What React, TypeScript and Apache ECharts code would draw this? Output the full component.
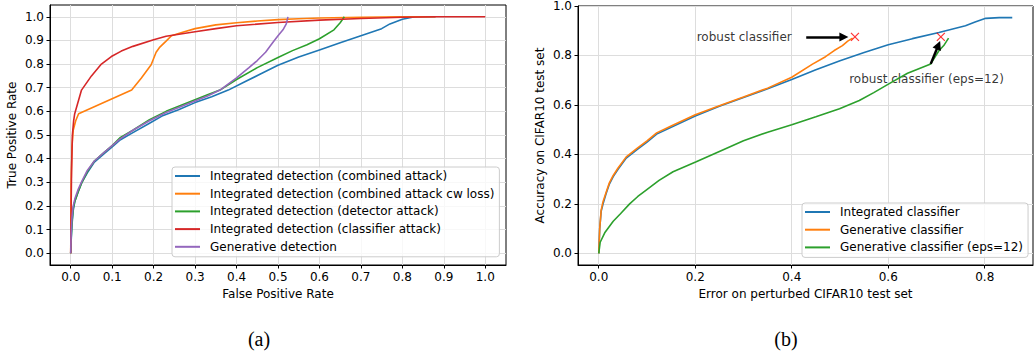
import React, { useEffect, useRef } from 'react';
import * as echarts from 'echarts';

// ---------- (a) ROC curves ----------
const rocTicks = [0, 0.1, 0.2, 0.3, 0.4, 0.5, 0.6, 0.7, 0.8, 0.9, 1.0];

const rocCombined: number[][] = [
  [0, 0], [0.001, 0.05], [0.003, 0.12], [0.006, 0.18], [0.01, 0.22], [0.018, 0.26], [0.027, 0.3],
  [0.04, 0.34], [0.057, 0.385], [0.08, 0.42], [0.1, 0.45], [0.12, 0.48], [0.15, 0.51], [0.19, 0.55],
  [0.22, 0.58], [0.26, 0.607], [0.3, 0.637], [0.34, 0.662], [0.38, 0.69], [0.42, 0.725], [0.46, 0.76],
  [0.5, 0.795], [0.55, 0.83], [0.6, 0.86], [0.65, 0.89], [0.7, 0.92], [0.75, 0.95], [0.77, 0.97],
  [0.8, 0.99], [0.83, 1.0], [0.88, 1.0],
];
const rocCombinedCw: number[][] = [
  [0, 0], [0.001, 0.3], [0.003, 0.45], [0.006, 0.52], [0.012, 0.56], [0.019, 0.59], [0.147, 0.69],
  [0.17, 0.74], [0.194, 0.797], [0.206, 0.85], [0.215, 0.872], [0.23, 0.897], [0.243, 0.92],
  [0.27, 0.935], [0.3, 0.95], [0.35, 0.966], [0.4, 0.975], [0.45, 0.982], [0.5, 0.988],
  [0.55, 0.992], [0.6, 0.995], [0.7, 0.998], [0.8, 1.0], [0.88, 1.0],
];
const rocDetector: number[][] = [
  [0, 0], [0.001, 0.06], [0.003, 0.13], [0.006, 0.19], [0.01, 0.22], [0.018, 0.26], [0.027, 0.3],
  [0.04, 0.345], [0.057, 0.39], [0.08, 0.425], [0.1, 0.455], [0.12, 0.49], [0.15, 0.52],
  [0.19, 0.565], [0.23, 0.6], [0.28, 0.635], [0.33, 0.67], [0.36, 0.69], [0.4, 0.735],
  [0.45, 0.785], [0.5, 0.828], [0.535, 0.857], [0.57, 0.882], [0.6, 0.907], [0.635, 0.945],
  [0.65, 0.975], [0.66, 1.0],
];
const rocClassifier: number[][] = [
  [0, 0], [0.001, 0.2], [0.002, 0.35], [0.004, 0.5], [0.007, 0.56], [0.0096, 0.59], [0.026, 0.69],
  [0.05, 0.75], [0.074, 0.8], [0.098, 0.832], [0.122, 0.855], [0.15, 0.875], [0.2, 0.903],
  [0.23, 0.918], [0.3, 0.937], [0.35, 0.95], [0.4, 0.962], [0.5, 0.976], [0.6, 0.986],
  [0.7, 0.993], [0.8, 0.998], [0.88, 1.0], [1.0, 1.0],
];
const rocGenerative: number[][] = [
  [0, 0], [0.001, 0.08], [0.003, 0.15], [0.006, 0.2], [0.01, 0.23], [0.018, 0.27], [0.027, 0.305],
  [0.04, 0.35], [0.057, 0.39], [0.08, 0.425], [0.1, 0.455], [0.12, 0.485], [0.15, 0.52],
  [0.19, 0.56], [0.23, 0.595], [0.28, 0.63], [0.33, 0.665], [0.36, 0.69], [0.4, 0.742],
  [0.43, 0.785], [0.45, 0.815], [0.47, 0.85], [0.487, 0.89], [0.5, 0.92], [0.512, 0.945],
  [0.52, 0.97], [0.524, 1.0],
];

// ---------- (b) accuracy vs error ----------
const accXTicks = [0, 0.2, 0.4, 0.6, 0.8];
const accYTicks = [0, 0.2, 0.4, 0.6, 0.8, 1.0];

const accIntegrated: number[][] = [
  [0, 0], [0.002, 0.1], [0.005, 0.17], [0.009, 0.2], [0.015, 0.24], [0.022, 0.28], [0.03, 0.31],
  [0.04, 0.34], [0.057, 0.385], [0.08, 0.42], [0.1, 0.45], [0.12, 0.482], [0.15, 0.51],
  [0.2, 0.555], [0.25, 0.595], [0.3, 0.63], [0.35, 0.665], [0.4, 0.703], [0.45, 0.742],
  [0.5, 0.779], [0.55, 0.812], [0.6, 0.843], [0.65, 0.868], [0.705, 0.893], [0.76, 0.92],
  [0.78, 0.935], [0.802, 0.95], [0.83, 0.953], [0.857, 0.953],
];
const accGenerative: number[][] = [
  [0, 0], [0.002, 0.1], [0.005, 0.175], [0.009, 0.21], [0.015, 0.245], [0.022, 0.285],
  [0.03, 0.315], [0.04, 0.345], [0.057, 0.39], [0.08, 0.425], [0.1, 0.455], [0.12, 0.487],
  [0.15, 0.515], [0.2, 0.56], [0.25, 0.597], [0.3, 0.632], [0.35, 0.668], [0.4, 0.712],
  [0.443, 0.765], [0.47, 0.795], [0.488, 0.82], [0.505, 0.84], [0.516, 0.858], [0.526, 0.87],
];
const accGenerativeEps: number[][] = [
  [0, 0], [0.003, 0.045], [0.0124, 0.083], [0.03, 0.13], [0.045, 0.16], [0.064, 0.2],
  [0.081, 0.23], [0.099, 0.257], [0.125, 0.295], [0.154, 0.33], [0.202, 0.37], [0.257, 0.418],
  [0.3, 0.455], [0.35, 0.49], [0.4, 0.52], [0.45, 0.552], [0.499, 0.585], [0.54, 0.618],
  [0.57, 0.65], [0.602, 0.686], [0.64, 0.728], [0.688, 0.766], [0.705, 0.819], [0.715, 0.84],
  [0.725, 0.87],
];

const robustMarkers: number[][] = [[0.531, 0.875], [0.709, 0.875]];
const annotationTexts = ['robust classifier', 'robust classifier (eps=12)'];
const annotationAnchors: number[][] = [[0.203, 0.875], [0.519, 0.705]];
const arrowTails: number[][] = [[0.43, 0.875], [0.688, 0.766]];
const arrowHeads: number[][] = [[0.508, 0.875], [0.704, 0.842]];

const rocNames = [
  'Integrated detection (combined attack)',
  'Integrated detection (combined attack cw loss)',
  'Integrated detection (detector attack)',
  'Integrated detection (classifier attack)',
  'Generative detection',
];
const accNames = ['Integrated classifier', 'Generative classifier', 'Generative classifier (eps=12)'];

const colors = ['#1f77b4', '#ff7f0e', '#2ca02c', '#d62728', '#9467bd'];
const FONT = 'DejaVu Sans';
const FS = 12;

function axisCommon(ticks: number[]) {
  return {
    type: 'value' as const,
    axisLine: { show: true, onZero: false, lineStyle: { color: '#000', width: 1 } },
    axisTick: { show: true, inside: false, length: 3.5, customValues: ticks, lineStyle: { color: '#000', width: 1 } },
    axisLabel: {
      customValues: ticks,
      formatter: (v: number) => v.toFixed(1),
      color: '#000',
      fontSize: FS,
      fontFamily: FONT,
      lineHeight: 12,
      margin: 6,
    },
    splitLine: { show: true, lineStyle: { color: '#dddddd', width: 1 } },
    nameLocation: 'middle' as const,
    nameTextStyle: { color: '#000', fontSize: FS, fontFamily: FONT },
  };
}

function legendCommon(names: string[], left: number, top: number) {
  return {
    orient: 'vertical' as const,
    left,
    top,
    data: names,
    icon: 'rect',
    itemWidth: 25,
    itemHeight: 2,
    itemGap: 3.7,
    selectedMode: false,
    padding: [2, 5, 3, 3],
    backgroundColor: 'rgba(255,255,255,0.8)',
    borderColor: '#cccccc',
    borderWidth: 1,
    borderRadius: 3,
    textStyle: { color: '#000', fontSize: FS, fontFamily: FONT, lineHeight: 14, padding: [0, 0, 0, 5] },
  };
}

function lineSeries(name: string, data: number[][], color: string, idx: number) {
  return {
    type: 'line' as const,
    name,
    data,
    xAxisIndex: idx,
    yAxisIndex: idx,
    symbol: 'none',
    showSymbol: false,
    lineStyle: { color, width: 1.6 },
    itemStyle: { color },
    emphasis: { disabled: true },
    silent: true,
  };
}

export default function App() {
  const ref = useRef<HTMLDivElement>(null);

  useEffect(() => {
    if (!ref.current) return;
    const chart = echarts.init(ref.current, undefined, { renderer: 'svg' });
    const rocSeriesData = [rocCombined, rocCombinedCw, rocDetector, rocClassifier, rocGenerative];
    const accSeriesData = [accIntegrated, accGenerative, accGenerativeEps];

    const option: any = {
      animation: false,
      textStyle: { fontFamily: FONT },
      grid: [
        { left: 50, top: 5, width: 456, height: 260, show: true, borderColor: '#000', borderWidth: 1, containLabel: false, outerBoundsMode: 'none' },
        { left: 578, top: 6, width: 455, height: 259, show: true, borderColor: '#000', borderWidth: 1, containLabel: false, outerBoundsMode: 'none' },
      ],
      xAxis: [
        { ...axisCommon(rocTicks), gridIndex: 0, min: -0.05, max: 1.05, splitNumber: 11, name: 'False Positive Rate', nameGap: 23 },
        { ...axisCommon(accXTicks), gridIndex: 1, min: -0.043, max: 0.9, splitNumber: 5, name: 'Error on perturbed CIFAR10 test set', nameGap: 23 },
      ],
      yAxis: [
        { ...axisCommon(rocTicks), gridIndex: 0, min: -0.05, max: 1.05, splitNumber: 11, name: 'True Positive Rate', nameGap: 32 },
        { ...axisCommon(accYTicks), gridIndex: 1, min: -0.047, max: 1.0, splitNumber: 5, name: 'Accuracy on CIFAR10 test set', nameGap: 32 },
      ],
      legend: [legendCommon(rocNames, 172, 167), legendCommon(accNames, 802, 203)],
      series: [
        ...rocNames.map((n, i) => lineSeries(n, rocSeriesData[i], colors[i], 0)),
        ...accNames.map((n, i) => lineSeries(n, accSeriesData[i], colors[i], 1)),
        {
          type: 'scatter',
          name: 'robust markers',
          xAxisIndex: 1,
          yAxisIndex: 1,
          data: robustMarkers,
          symbol: 'path://M0,0L10,10M0,10L10,0',
          symbolSize: 8,
          itemStyle: { color: 'none', borderColor: '#ff0000', borderWidth: 1.2 },
          silent: true,
          z: 5,
        },
        {
          type: 'line',
          name: 'arrows',
          xAxisIndex: 1,
          yAxisIndex: 1,
          data: [],
          silent: true,
          itemStyle: { color: '#000' },
          lineStyle: { color: '#000' },
          z: 6,
          markLine: {
            silent: true,
            symbol: ['none', 'triangle'],
            symbolSize: 9,
            label: { show: false },
            itemStyle: { color: '#000' },
            lineStyle: { color: '#000', width: 2.5, type: 'solid' },
            emphasis: { disabled: true },
            data: arrowTails.map((t, i) => [{ coord: t }, { coord: arrowHeads[i] }]),
          },
        },
        {
          type: 'scatter',
          name: 'annotations',
          xAxisIndex: 1,
          yAxisIndex: 1,
          symbolSize: 0,
          silent: true,
          data: annotationAnchors.map((p, i) => ({ value: p, name: annotationTexts[i] })),
          label: {
            show: true,
            position: 'right',
            distance: 0,
            formatter: (p: any) => p.name,
            color: '#000',
            fontSize: FS,
            fontFamily: FONT,
          },
        },
      ],
      graphic: [
        { type: 'text', x: 259, y: 339, style: { text: '(a)', font: '20px "Liberation Serif"', fill: '#000', align: 'center', verticalAlign: 'middle' } },
        { type: 'text', x: 786, y: 339, style: { text: '(b)', font: '20px "Liberation Serif"', fill: '#000', align: 'center', verticalAlign: 'middle' } },
      ],
    };
    chart.setOption(option);
    return () => chart.dispose();
  }, []);

  return (
    <div
      ref={ref}
      style={{ position: 'absolute', left: 0, top: 0, width: 1034, height: 353, background: '#fff' }}
    />
  );
}
